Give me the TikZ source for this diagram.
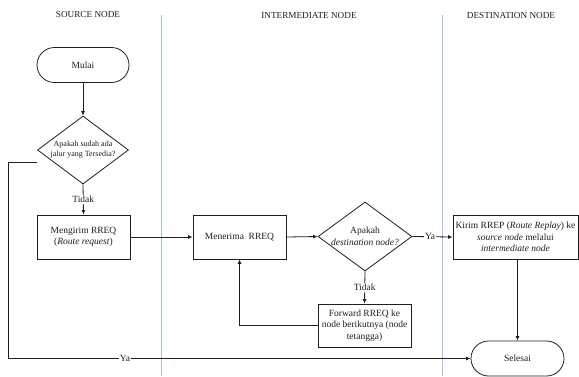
\documentclass[tikz,border=0pt]{standalone}
\usepackage{fontspec}
\setmainfont{Liberation Serif}
\usetikzlibrary{shapes.geometric,shapes.misc,arrows.meta,calc}
\definecolor{sep}{RGB}{165,190,232}
\definecolor{ink}{RGB}{30,30,30}
\begin{document}
\begin{tikzpicture}[x=1pt,y=-1pt,
  txt/.style={font=\fontsize{9.5}{11.5}\selectfont, text=ink},
  head/.style={font=\fontsize{9.2}{11}\selectfont, text=ink},
  line/.style={draw=ink, line width=0.8pt},
  arr/.style={line, -{Latex[length=4.5pt,width=4pt]}},
  box/.style={draw=ink, line width=0.8pt, rectangle, align=center, inner sep=1pt, txt},
  term/.style={draw=ink, line width=0.8pt, rounded rectangle, inner sep=1pt, txt},
  dia/.style={draw=ink, line width=0.8pt, diamond, inner sep=0pt},
  lbl/.style={fill=white, inner sep=1pt, txt},
  seplane/.style={draw=sep, line width=0.9pt}]
\useasboundingbox (0,0) rectangle (579,376);

% lanes
\draw[seplane] (161.5,15) -- (161.5,376);
\draw[seplane] (442,15) -- (442,376);
\node[head] (h1) at (88,14.5) {SOURCE NODE};
\node[head] (h2) at (309,15) {INTERMEDIATE NODE};
\node[head] (h3) at (511,15) {DESTINATION NODE};

% nodes
\node[term, minimum width=94pt, minimum height=35pt] (mulai) at (83,65) {Mulai};
\node[dia, minimum width=91pt, minimum height=68pt] (d1) at (83,150) {};
\node[align=center, font=\fontsize{8}{10}\selectfont, text=ink] (d1t) at (83,150) {Apakah sudah ada\\jalur yang Tersedia?};
\node[box, minimum width=93pt, minimum height=44pt] (kirimreq) at (83.5,237) {Mengirim RREQ\\(\textit{Route request})};
\node[box, minimum width=93pt, minimum height=44pt] (terima) at (239.5,237) {Menerima\ \ RREQ};
\node[dia, minimum width=94pt, minimum height=69pt] (d2) at (365,236.5) {};
\node[align=center, txt] (d2t) at (365,236.5) {Apakah\\\textit{destination node?}};
\node[box, minimum width=125pt, minimum height=44pt] (rrep) at (515.5,237) {Kirim RREP (\textit{Route Replay}) ke\\\textit{source node} melalui\\\textit{intermediate node}};
\node[box, minimum width=93pt, minimum height=43pt] (fwd) at (364.5,325.5) {Forward RREQ ke\\node berikutnya (node\\tetangga)};
\node[term, minimum width=95pt, minimum height=35pt] (selesai) at (517.5,358.5) {Selesai};
\coordinate (cl) at (8,0);

% connectors
\draw[arr] (mulai.south) -- (d1.north);
\draw[arr] (d1.south) -- node[lbl, pos=0.5]{Tidak} (kirimreq.north);
\draw[arr] ($(d1.west)+(0,12)$) -| (cl |- selesai.west) -- node[lbl, pos=0.253]{Ya} (selesai.west);
\draw[arr] (kirimreq.east) -- (terima.west);
\draw[arr] (terima.east) -- (d2.west);
\draw[arr] (d2.east) -- node[lbl, pos=0.44]{Ya} (rrep.west);
\draw[arr] (d2.south) -- node[lbl, pos=0.5]{Tidak} (fwd.north);
\draw[arr] (fwd.west) -| (terima.south);
\draw[arr] (selesai.north |- rrep.south) -- (selesai.north);
\end{tikzpicture}
\end{document}
